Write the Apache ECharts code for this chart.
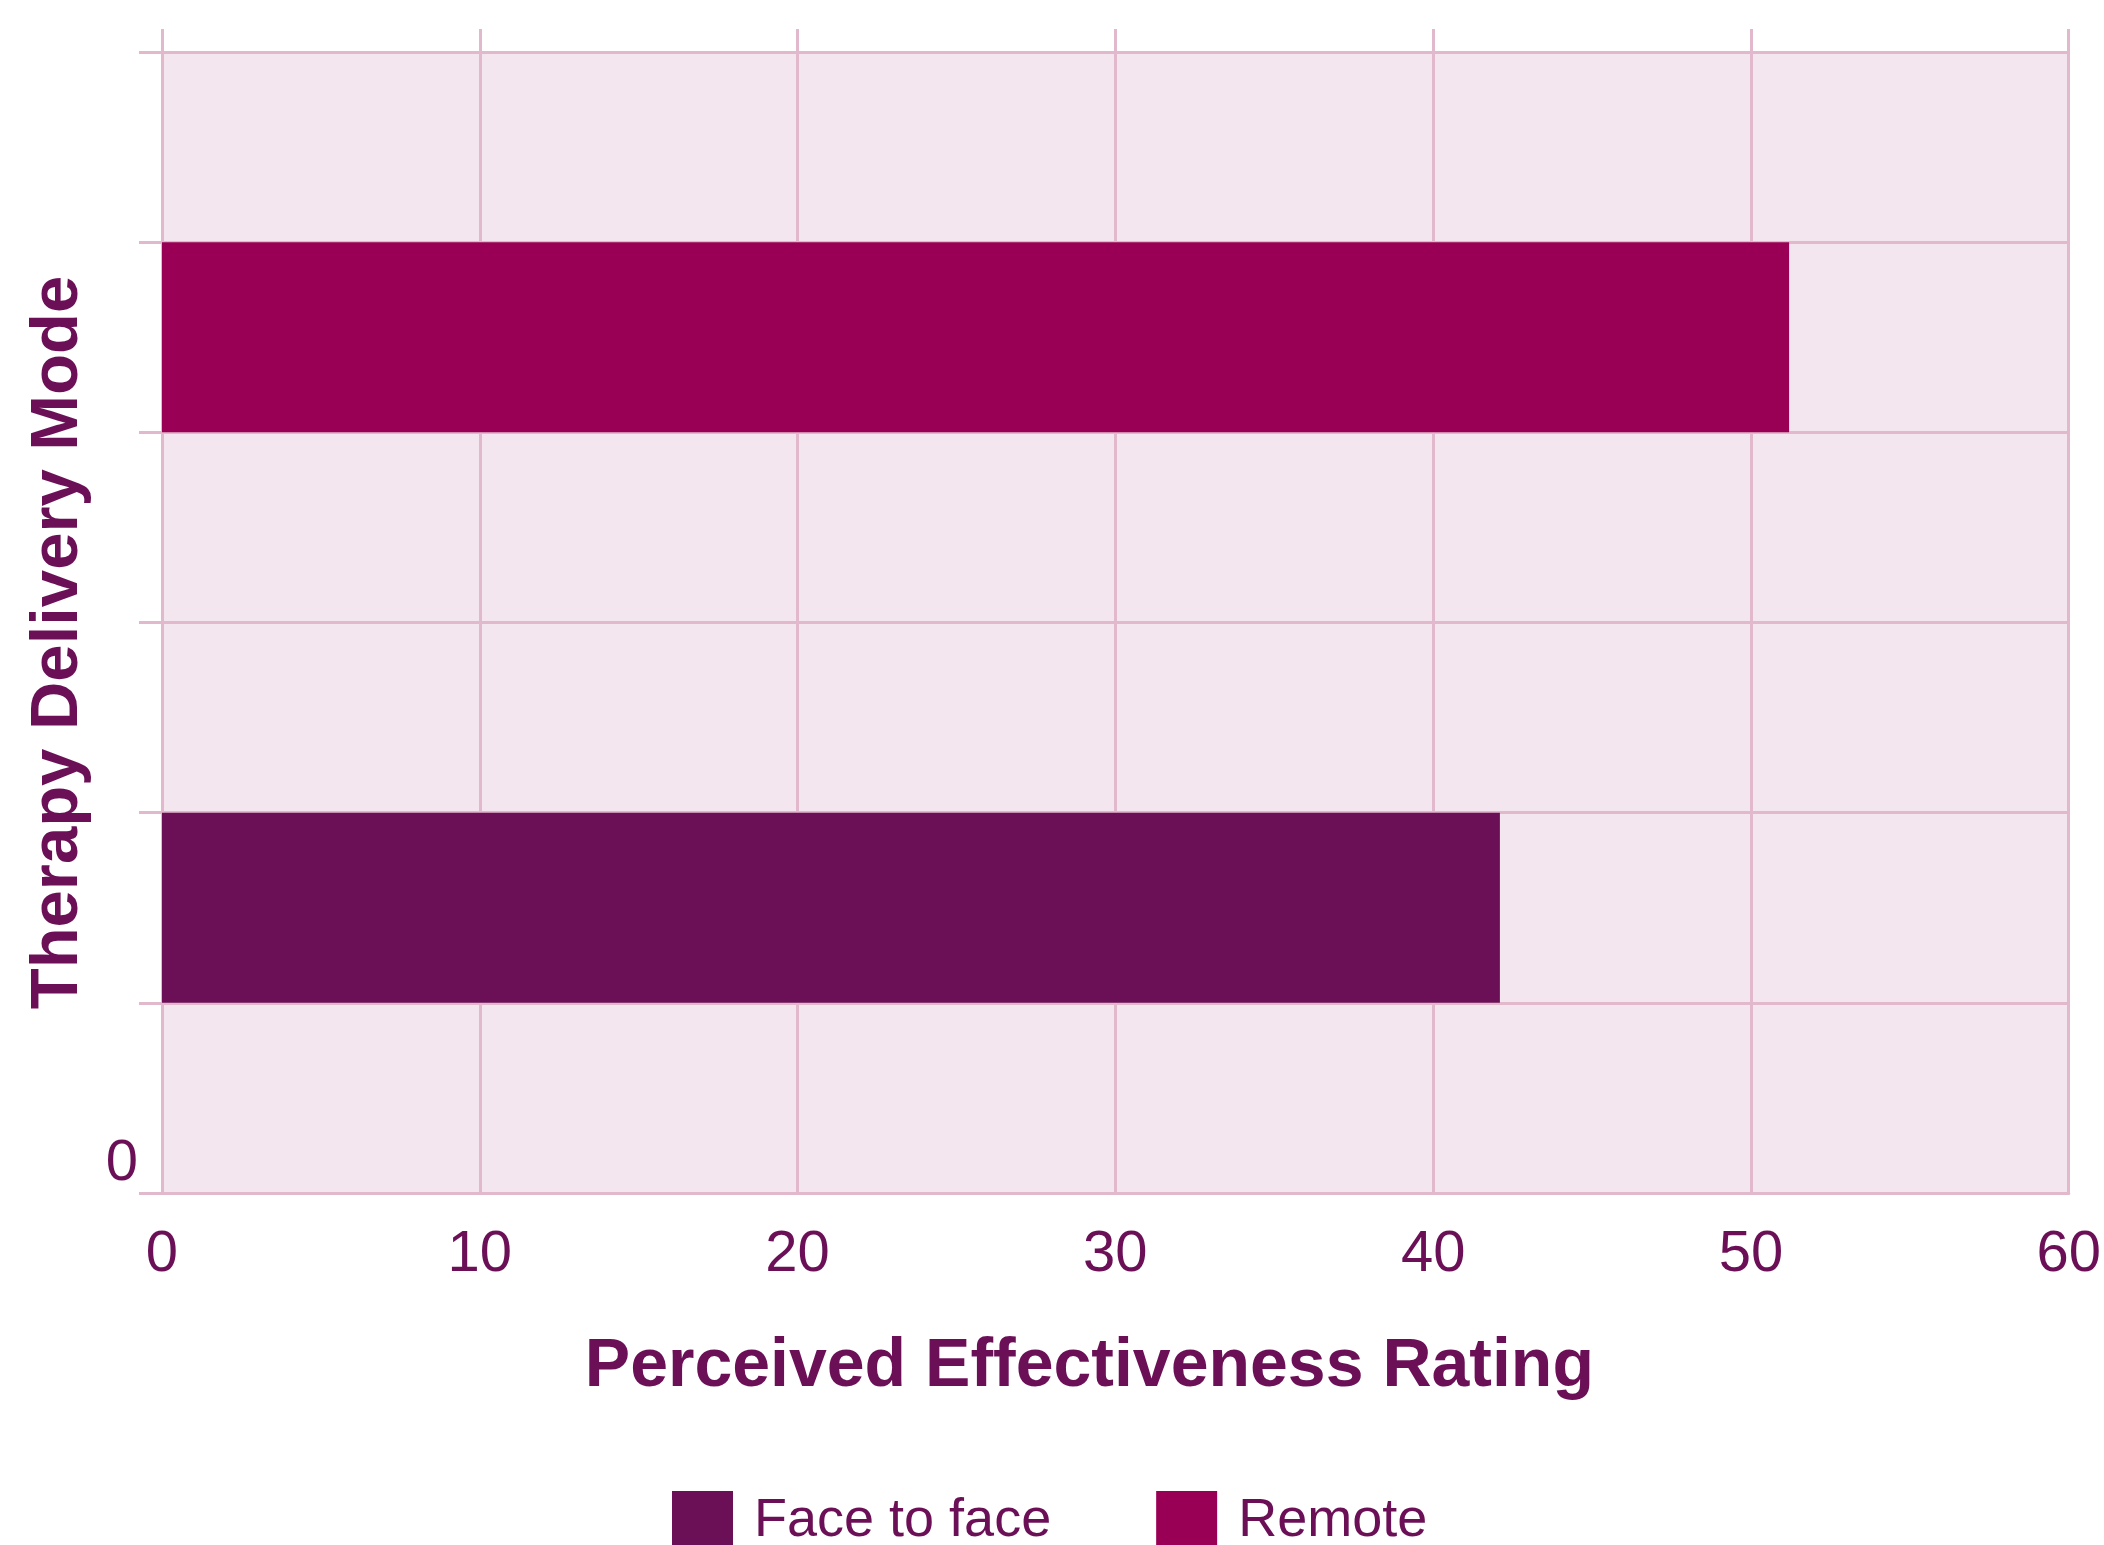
<!DOCTYPE html>
<html>
<head>
<meta charset="utf-8">
<script src="https://cdn.jsdelivr.net/npm/echarts@6/dist/echarts.min.js"></script>
<style>
  html, body { margin: 0; padding: 0; background: #fff; }
  #chart { width: 2104px; height: 1545px; }
</style>
</head>
<body>
<div id="chart"></div>
<script>
// rows of the chart from bottom to top, two of them hold the bars
const rows = ['', 'Face to face', '', '', 'Remote', '']
const faceToFace = [null, 42.1, null, null, null, null]
const remote = [null, null, null, null, 51.2, null]
const seriesNames = ['Face to face', 'Remote']
const xTicks = [0, 10, 20, 30, 40, 50, 60]
const yTickLabel = '0'

const TEXT = '#6B0F57'
const GRID = '#E2B8CC'
const FONT = '"Liberation Sans", Arial, sans-serif'

const chart = echarts.init(document.getElementById('chart'))

chart.setOption({
  backgroundColor: '#ffffff',
  animation: false,
  color: ['#6B0F57', '#990055'],
  textStyle: { fontFamily: FONT },
  grid: {
    left: 162,
    right: 29,
    top: 52,
    bottom: 352,
    show: true,
    backgroundColor: '#F3E6EF',
    borderWidth: 0,
  },
  legend: {
    data: seriesNames,
    left: 672,
    top: 1491,
    padding: 0,
    itemWidth: 61,
    itemHeight: 61,
    itemGap: 105,
    icon: 'rect',
    textStyle: {
      color: TEXT,
      fontSize: 54,
      fontFamily: FONT,
      padding: [0, 0, 0, 16],
    },
  },
  xAxis: [
    {
      type: 'value',
      position: 'bottom',
      min: xTicks[0],
      max: xTicks[xTicks.length - 1],
      interval: 10,
      name: 'Perceived Effectiveness Rating',
      nameLocation: 'middle',
      nameGap: 140,
      nameTextStyle: {
        color: TEXT,
        fontSize: 68,
        fontWeight: 'bold',
        fontFamily: FONT,
        padding: [0, 52, 0, 0],
      },
      axisLine: { show: true, lineStyle: { color: GRID, width: 3 } },
      axisTick: { show: false },
      axisLabel: {
        color: TEXT,
        fontSize: 58,
        margin: 33,
        fontFamily: FONT,
      },
      splitLine: { show: true, lineStyle: { color: GRID, width: 3 } },
    },
    {
      // only draws the short ticks sticking out above the plot
      type: 'value',
      position: 'top',
      min: xTicks[0],
      max: xTicks[xTicks.length - 1],
      interval: 10,
      axisLine: { show: false },
      axisTick: { show: true, length: 23, lineStyle: { color: GRID, width: 3 } },
      axisLabel: { show: false },
      splitLine: { show: false },
    },
  ],
  yAxis: [
    {
      type: 'value',
      position: 'left',
      min: 0,
      max: rows.length,
      interval: 1,
      name: 'Therapy Delivery Mode',
      nameLocation: 'middle',
      nameRotate: 90,
      nameGap: 70,
      nameTextStyle: {
        color: TEXT,
        fontSize: 67,
        fontWeight: 'bold',
        fontFamily: FONT,
        padding: [0, 40, 0, 0],
      },
      axisLine: { show: true, lineStyle: { color: GRID, width: 3 } },
      axisTick: { show: true, length: 23, lineStyle: { color: GRID, width: 3 } },
      axisLabel: {
        color: TEXT,
        fontSize: 58,
        margin: 24,
        verticalAlign: 'bottom',
        fontFamily: FONT,
        formatter: (v) => (v === 0 ? yTickLabel : ''),
      },
      splitLine: { show: true, lineStyle: { color: GRID, width: 3 } },
    },
    {
      type: 'category',
      data: rows,
      show: false,
    },
  ],
  series: [
    {
      name: seriesNames[0],
      type: 'bar',
      xAxisIndex: 0,
      yAxisIndex: 1,
      data: faceToFace,
      barWidth: '100%',
      barGap: '-100%',
    },
    {
      name: seriesNames[1],
      type: 'bar',
      xAxisIndex: 0,
      yAxisIndex: 1,
      data: remote,
      barWidth: '100%',
      barGap: '-100%',
    },
  ],
})
</script>
</body>
</html>
